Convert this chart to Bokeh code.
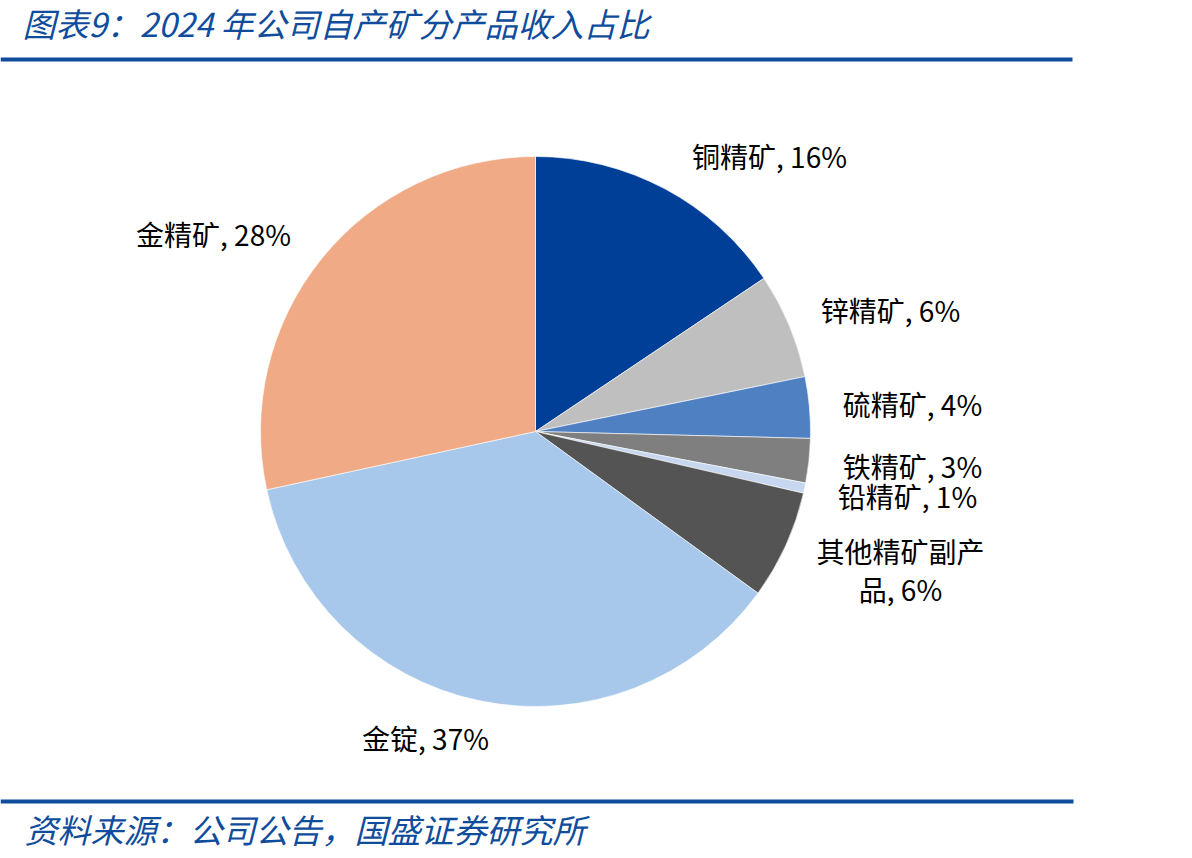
import numpy as np
from bokeh.plotting import figure
from bokeh.models import Range1d, ColumnDataSource
from bokeh.core.properties import value
from bokeh.embed import file_html
from bokeh.resources import INLINE

# ---- data ----
categories = ["铜精矿", "锌精矿", "硫精矿", "铁精矿", "铅精矿", "其他精矿副产\n品", "金锭", "金精矿"]
shares = [15.6, 6.2, 3.6, 2.6, 0.6, 6.4, 36.6, 28.4]
colors = ["#003F97", "#BFBFBF", "#4F81C2", "#7F7F7F", "#C6D7EF", "#545454", "#A7C8EB", "#F0AA85"]
title_text = "图表9：2024 年公司自产矿分产品收入占比"
source_text = "资料来源：公司公告，国盛证券研究所"

# label placement (pixel positions of label centres, layout only)
label_px = [(769, 155), (890, 309), (912, 403), (912, 465), (907, 495), (900, 569), (425, 737), (213, 233)]

W, H = 1192, 858
def Y(py):
    return H - py

CJK = "Noto Sans CJK SC"
BLUE = "#0F4C9C"

p = figure(width=W, height=H, x_range=Range1d(0, W), y_range=Range1d(0, H),
           output_backend="svg", toolbar_location=None, min_border=0)
p.axis.visible = False
p.grid.visible = False
p.outline_line_color = None
p.background_fill_color = "white"
p.border_fill_color = "white"

# ---- pie ----
cx, cy, r = 535, Y(431), 275
vals = np.array(shares, dtype=float)
frac = vals / vals.sum()
cum = np.concatenate([[0.0], np.cumsum(frac)])
start = np.pi / 2 - 2 * np.pi * cum[:-1]
end = np.pi / 2 - 2 * np.pi * cum[1:]
src = ColumnDataSource(dict(x=[cx] * len(vals), y=[cy] * len(vals), start=start, end=end, color=colors))
p.wedge(x="x", y="y", radius=r, start_angle="start", end_angle="end", direction="clock",
        fill_color="color", line_color="white", line_width=0.6, source=src)

# ---- labels ----
labels = [f"{c}, {int(round(v))}%" for c, v in zip(categories, shares)]
lsrc = ColumnDataSource(dict(x=[a for a, b in label_px], y=[Y(b) for a, b in label_px], t=labels))
p.text(x="x", y="y", text="t", source=lsrc, text_font=value(CJK), text_font_size="28px",
       text_color="black", text_align="center", text_baseline="middle", text_line_height=0.95)

# ---- title, rules, source ----
p.text(x=[22], y=[Y(22)], text=[title_text], text_font=value(CJK), text_font_size="33px",
       text_font_style="italic", text_color=BLUE, text_align="left", text_baseline="middle")
p.quad(left=[0, 0], right=[1072, 1073], top=[Y(57), Y(799)], bottom=[Y(61), Y(803)],
       fill_color=BLUE, line_color=None)
p.text(x=[24], y=[Y(828)], text=[source_text], text_font=value(CJK), text_font_size="33px",
       text_font_style="italic", text_color=BLUE, text_align="left", text_baseline="middle")

open("out.html", "w").write(file_html(p, INLINE))
